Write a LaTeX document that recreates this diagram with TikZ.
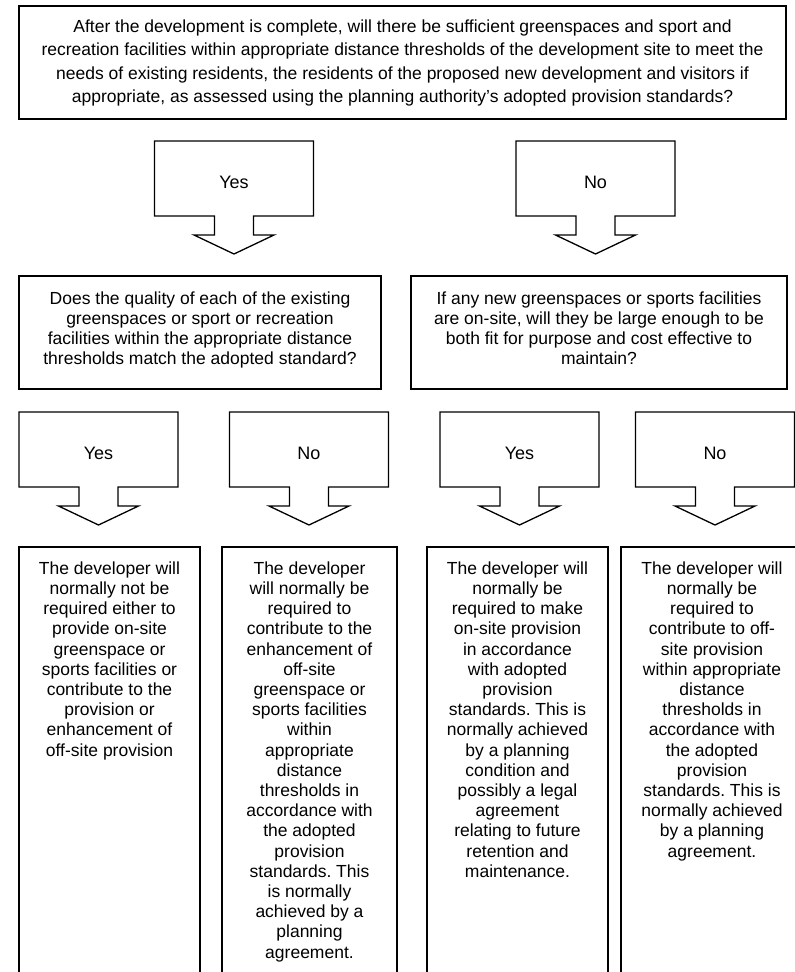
\documentclass[tikz,border=0pt]{standalone}
\usepackage{fontspec}
\setmainfont{Liberation Sans}
\frenchspacing
\begin{document}
\begin{tikzpicture}[x=1pt,y=-1pt,line width=1.3pt,line join=miter,
  box/.style={draw,rectangle,inner sep=0pt,outer sep=0pt,anchor=north west},
  txt/.style={font=\fontsize{17.5}{20.2}\selectfont,align=center,inner sep=0pt,anchor=north},
  toptxt/.style={font=\fontsize{17.5}{23.5}\selectfont,align=center,inner sep=0pt,anchor=north},
  lbl/.style={font=\fontsize{18}{20}\selectfont,inner sep=0pt,anchor=center},
  pics/choice/.style={code={
    \draw (-79.5,0) -- (79.5,0) -- (79.5,75) -- (19.5,75) -- (19.5,94) -- (40,94)
      -- (0,113) -- (-40,94) -- (-19.5,94) -- (-19.5,75) -- (-79.5,75) -- cycle;
    \node[lbl] (-label) at (0,41) {#1};
  }}]
\useasboundingbox (0,0) rectangle (795,972);
\clip (0,0) rectangle (795,972);

% top question
\node[box,minimum width=767pt,minimum height=113pt] (q0) at (19,6) {};
\node[toptxt] (t0) at (402.5,19) {After the development is complete, will there be sufficient greenspaces and sport and\\
recreation facilities within appropriate distance thresholds of the development site to meet the\\
needs of existing residents, the residents of the proposed new development and visitors if\\
appropriate, as assessed using the planning authority’s adopted provision standards?};

% first choice arrows
\pic (a1) at (234,141) {choice=Yes};
\pic (a2) at (595.5,141) {choice=No};

% second row questions
\node[box,minimum width=362pt,minimum height=113pt] (q1) at (19,276) {};
\node[txt] (t1) at (200,291) {Does the quality of each of the existing\\greenspaces or sport or recreation\\facilities within the appropriate distance\\thresholds match the adopted standard?};
\node[box,minimum width=376pt,minimum height=113pt] (q2) at (411,276) {};
\node[txt] (t2) at (599,291) {If any new greenspaces or sports facilities\\are on-site, will they be large enough to be\\both fit for purpose and cost effective to\\maintain?};

% second choice arrows
\pic (b1) at (98.5,412) {choice=Yes};
\pic (b2) at (309,412) {choice=No};
\pic (b3) at (519.5,412) {choice=Yes};
\pic (b4) at (715,412) {choice=No};

% outcome boxes
\node[box,minimum width=181pt,minimum height=460pt] (r1) at (19,547) {};
\node[txt] (u1) at (109.5,561) {The developer will\\normally not be\\required either to\\provide on-site\\greenspace or\\sports facilities or\\contribute to the\\provision or\\enhancement of\\off-site provision};
\node[box,minimum width=175pt,minimum height=460pt] (r2) at (222,547) {};
\node[txt] (u2) at (309.5,561) {The developer\\will normally be\\required to\\contribute to the\\enhancement of\\off-site\\greenspace or\\sports facilities\\within\\appropriate\\distance\\thresholds in\\accordance with\\the adopted\\provision\\standards. This\\is normally\\achieved by a\\planning\\agreement.};
\node[box,minimum width=181pt,minimum height=460pt] (r3) at (427,547) {};
\node[txt] (u3) at (517.5,561) {The developer will\\normally be\\required to make\\on-site provision\\in accordance\\with adopted\\provision\\standards. This is\\normally achieved\\by a planning\\condition and\\possibly a legal\\agreement\\relating to future\\retention and\\maintenance.};
\node[box,minimum width=182pt,minimum height=460pt] (r4) at (621,547) {};
\node[txt] (u4) at (712,561) {The developer will\\normally be\\required to\\contribute to off-\\site provision\\within appropriate\\distance\\thresholds in\\accordance with\\the adopted\\provision\\standards. This is\\normally achieved\\by a planning\\agreement.};
\end{tikzpicture}
\end{document}
